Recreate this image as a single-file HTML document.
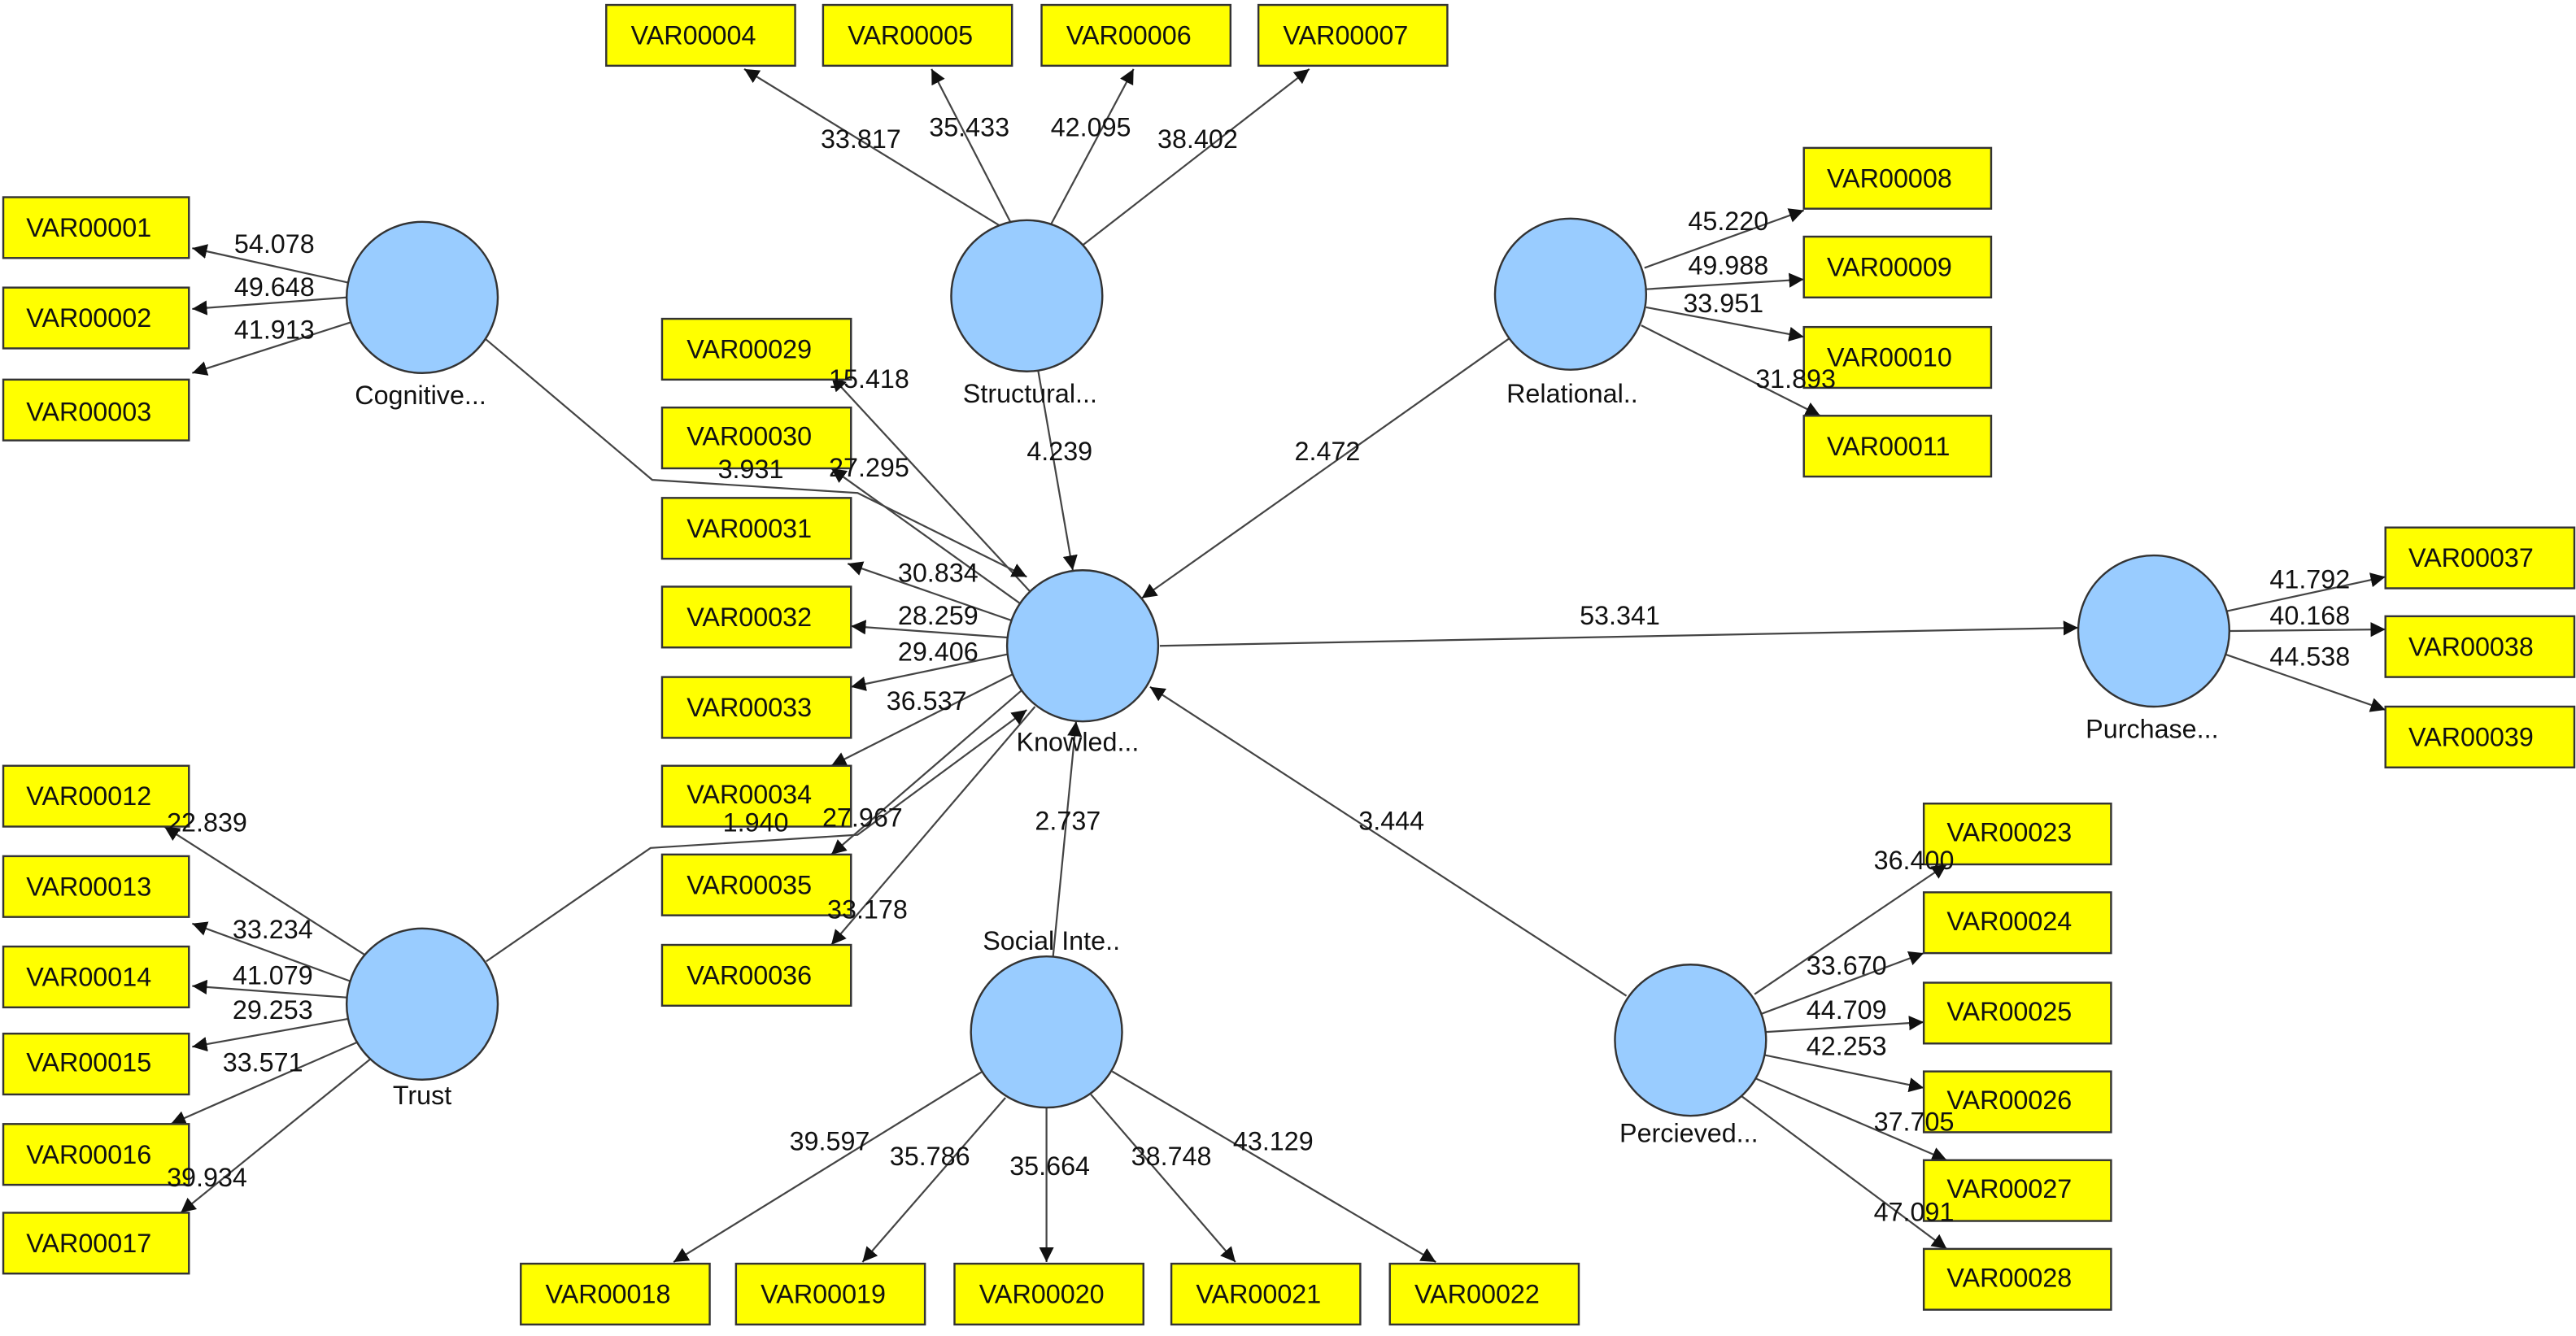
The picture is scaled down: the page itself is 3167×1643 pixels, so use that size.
<!DOCTYPE html>
<html><head><meta charset="utf-8"><style>
html,body{margin:0;padding:0;background:#fff;}
svg{display:block;}
text{font-family:"Liberation Sans",Arial,sans-serif;font-size:16px;fill:#111;}
.bx{fill:#ffff00;stroke:#333;stroke-width:1.2;}
.c{fill:#99ccff;stroke:#333;stroke-width:1.2;}
.l{stroke:#444;stroke-width:1.1;fill:none;marker-end:url(#a);}
</style></head><body>
<svg width="3167" height="1643" viewBox="0 0 1568 813" preserveAspectRatio="none" xmlns="http://www.w3.org/2000/svg">
<defs><marker id="a" viewBox="0 0 10 10" refX="10" refY="5" markerWidth="9" markerHeight="9" markerUnits="userSpaceOnUse" orient="auto"><path d="M0,0 L10,5 L0,10 z" fill="#111"/></marker></defs>

<g>
<line class="l" x1="608" y1="137" x2="453" y2="42"/>
<line class="l" x1="615" y1="135" x2="567" y2="42"/>
<line class="l" x1="640" y1="136" x2="690" y2="42"/>
<line class="l" x1="658" y1="150" x2="797" y2="42"/>

<line class="l" x1="212" y1="172" x2="117" y2="151"/>
<line class="l" x1="211" y1="181" x2="117" y2="188"/>
<line class="l" x1="214" y1="196" x2="117" y2="227"/>

<line class="l" x1="1001" y1="163" x2="1098" y2="128"/>
<line class="l" x1="1002" y1="176" x2="1098" y2="170"/>
<line class="l" x1="1002" y1="187" x2="1098" y2="205"/>
<line class="l" x1="999" y1="198" x2="1108" y2="253"/>

<line class="l" x1="627" y1="360" x2="506" y2="229"/>
<line class="l" x1="622" y1="368" x2="506" y2="285"/>
<line class="l" x1="617" y1="378" x2="516" y2="343"/>
<line class="l" x1="614" y1="388" x2="518" y2="381"/>
<line class="l" x1="614" y1="398" x2="518" y2="418"/>
<line class="l" x1="617" y1="410" x2="506" y2="466"/>
<line class="l" x1="622" y1="420" x2="506" y2="520"/>
<line class="l" x1="630" y1="430" x2="506" y2="575"/>

<line class="l" x1="222" y1="581" x2="100" y2="503"/>
<line class="l" x1="213" y1="597" x2="117" y2="562"/>
<line class="l" x1="211" y1="607" x2="117" y2="600"/>
<line class="l" x1="212" y1="620" x2="117" y2="637"/>
<line class="l" x1="218" y1="634" x2="104" y2="684"/>
<line class="l" x1="226" y1="644" x2="110" y2="738"/>

<line class="l" x1="598" y1="652" x2="410" y2="768"/>
<line class="l" x1="612" y1="668" x2="525" y2="768"/>
<line class="l" x1="637" y1="674" x2="637" y2="768"/>
<line class="l" x1="664" y1="666" x2="752" y2="768"/>
<line class="l" x1="677" y1="652" x2="874" y2="768"/>

<line class="l" x1="1068" y1="605" x2="1185" y2="526"/>
<line class="l" x1="1072" y1="617" x2="1171" y2="580"/>
<line class="l" x1="1075" y1="628" x2="1171" y2="622"/>
<line class="l" x1="1074" y1="642" x2="1171" y2="662"/>
<line class="l" x1="1068" y1="656" x2="1185" y2="706"/>
<line class="l" x1="1060" y1="667" x2="1185" y2="760"/>

<line class="l" x1="1355" y1="372" x2="1452" y2="351"/>
<line class="l" x1="1357" y1="384" x2="1452" y2="383"/>
<line class="l" x1="1354" y1="398" x2="1452" y2="432"/>

<polyline class="l" points="294,205 397,292 522,300 625,351"/>
<polyline class="l" points="296,585 396,516 522,508 625,432"/>
<line class="l" x1="632" y1="226" x2="653" y2="347"/>
<line class="l" x1="920" y1="205" x2="695" y2="364"/>
<line class="l" x1="641" y1="582" x2="655" y2="439"/>
<line class="l" x1="990" y1="606" x2="700" y2="418"/>
<line class="l" x1="706" y1="393" x2="1265" y2="382"/>
</g>

<circle class="c" cx="257" cy="181" r="46"/>
<circle class="c" cx="625" cy="180" r="46"/>
<circle class="c" cx="956" cy="179" r="46"/>
<circle class="c" cx="659" cy="393" r="46"/>
<circle class="c" cx="1311" cy="384" r="46"/>
<circle class="c" cx="257" cy="611" r="46"/>
<circle class="c" cx="637" cy="628" r="46"/>
<circle class="c" cx="1029" cy="633" r="46"/>

<g text-anchor="middle">
<text x="256" y="246">Cognitive...</text>
<text x="627" y="245">Structural...</text>
<text x="957" y="245">Relational..</text>
<text x="656" y="457">Knowled...</text>
<text x="1310" y="449">Purchase...</text>
<text x="257" y="672">Trust</text>
<text x="640" y="578">Social Inte..</text>
<text x="1028" y="695">Percieved...</text>
</g>

<g>
<rect class="bx" x="369" y="3" width="115" height="37"/><text x="384" y="27">VAR00004</text>
<rect class="bx" x="501" y="3" width="115" height="37"/><text x="516" y="27">VAR00005</text>
<rect class="bx" x="634" y="3" width="115" height="37"/><text x="649" y="27">VAR00006</text>
<rect class="bx" x="766" y="3" width="115" height="37"/><text x="781" y="27">VAR00007</text>

<rect class="bx" x="2" y="120" width="113" height="37"/><text x="16" y="144">VAR00001</text>
<rect class="bx" x="2" y="175" width="113" height="37"/><text x="16" y="199">VAR00002</text>
<rect class="bx" x="2" y="231" width="113" height="37"/><text x="16" y="256">VAR00003</text>

<rect class="bx" x="1098" y="90" width="114" height="37"/><text x="1112" y="114">VAR00008</text>
<rect class="bx" x="1098" y="144" width="114" height="37"/><text x="1112" y="168">VAR00009</text>
<rect class="bx" x="1098" y="199" width="114" height="37"/><text x="1112" y="223">VAR00010</text>
<rect class="bx" x="1098" y="253" width="114" height="37"/><text x="1112" y="277">VAR00011</text>

<rect class="bx" x="403" y="194" width="115" height="37"/><text x="418" y="218">VAR00029</text>
<rect class="bx" x="403" y="248" width="115" height="37"/><text x="418" y="271">VAR00030</text>
<rect class="bx" x="403" y="303" width="115" height="37"/><text x="418" y="327">VAR00031</text>
<rect class="bx" x="403" y="357" width="115" height="37"/><text x="418" y="381">VAR00032</text>
<rect class="bx" x="403" y="412" width="115" height="37"/><text x="418" y="436">VAR00033</text>
<rect class="bx" x="403" y="466" width="115" height="37"/><text x="418" y="489">VAR00034</text>
<rect class="bx" x="403" y="520" width="115" height="37"/><text x="418" y="544">VAR00035</text>
<rect class="bx" x="403" y="575" width="115" height="37"/><text x="418" y="599">VAR00036</text>

<rect class="bx" x="2" y="466" width="113" height="37"/><text x="16" y="490">VAR00012</text>
<rect class="bx" x="2" y="521" width="113" height="37"/><text x="16" y="545">VAR00013</text>
<rect class="bx" x="2" y="576" width="113" height="37"/><text x="16" y="600">VAR00014</text>
<rect class="bx" x="2" y="629" width="113" height="37"/><text x="16" y="652">VAR00015</text>
<rect class="bx" x="2" y="684" width="113" height="37"/><text x="16" y="708">VAR00016</text>
<rect class="bx" x="2" y="738" width="113" height="37"/><text x="16" y="762">VAR00017</text>

<rect class="bx" x="317" y="769" width="115" height="37"/><text x="332" y="793">VAR00018</text>
<rect class="bx" x="448" y="769" width="115" height="37"/><text x="463" y="793">VAR00019</text>
<rect class="bx" x="581" y="769" width="115" height="37"/><text x="596" y="793">VAR00020</text>
<rect class="bx" x="713" y="769" width="115" height="37"/><text x="728" y="793">VAR00021</text>
<rect class="bx" x="846" y="769" width="115" height="37"/><text x="861" y="793">VAR00022</text>

<rect class="bx" x="1171" y="489" width="114" height="37"/><text x="1185" y="512">VAR00023</text>
<rect class="bx" x="1171" y="543" width="114" height="37"/><text x="1185" y="566">VAR00024</text>
<rect class="bx" x="1171" y="598" width="114" height="37"/><text x="1185" y="621">VAR00025</text>
<rect class="bx" x="1171" y="652" width="114" height="37"/><text x="1185" y="675">VAR00026</text>
<rect class="bx" x="1171" y="706" width="114" height="37"/><text x="1185" y="729">VAR00027</text>
<rect class="bx" x="1171" y="760" width="114" height="37"/><text x="1185" y="783">VAR00028</text>

<rect class="bx" x="1452" y="321" width="115" height="37"/><text x="1466" y="345">VAR00037</text>
<rect class="bx" x="1452" y="375" width="115" height="37"/><text x="1466" y="399">VAR00038</text>
<rect class="bx" x="1452" y="430" width="115" height="37"/><text x="1466" y="454">VAR00039</text>
</g>

<g text-anchor="middle">
<text x="524" y="90">33.817</text>
<text x="590" y="83">35.433</text>
<text x="664" y="83">42.095</text>
<text x="729" y="90">38.402</text>
<text x="167" y="154">54.078</text>
<text x="167" y="180">49.648</text>
<text x="167" y="206">41.913</text>
<text x="1052" y="140">45.220</text>
<text x="1052" y="167">49.988</text>
<text x="1049" y="190">33.951</text>
<text x="1093" y="236">31.893</text>
<text x="529" y="236">15.418</text>
<text x="529" y="290">27.295</text>
<text x="457" y="291">3.931</text>
<text x="571" y="354">30.834</text>
<text x="571" y="380">28.259</text>
<text x="571" y="402">29.406</text>
<text x="564" y="432">36.537</text>
<text x="460" y="506">1.940</text>
<text x="525" y="503">27.967</text>
<text x="528" y="559">33.178</text>
<text x="126" y="506">22.839</text>
<text x="166" y="571">33.234</text>
<text x="166" y="599">41.079</text>
<text x="166" y="620">29.253</text>
<text x="160" y="652">33.571</text>
<text x="126" y="722">39.934</text>
<text x="505" y="700">39.597</text>
<text x="566" y="709">35.786</text>
<text x="639" y="715">35.664</text>
<text x="713" y="709">38.748</text>
<text x="775" y="700">43.129</text>
<text x="1165" y="529">36.400</text>
<text x="1124" y="593">33.670</text>
<text x="1124" y="620">44.709</text>
<text x="1124" y="642">42.253</text>
<text x="1165" y="688">37.705</text>
<text x="1165" y="743">47.091</text>
<text x="1406" y="358">41.792</text>
<text x="1406" y="380">40.168</text>
<text x="1406" y="405">44.538</text>
<text x="645" y="280">4.239</text>
<text x="808" y="280">2.472</text>
<text x="986" y="380">53.341</text>
<text x="650" y="505">2.737</text>
<text x="847" y="505">3.444</text>
</g>
</svg>
</body></html>
